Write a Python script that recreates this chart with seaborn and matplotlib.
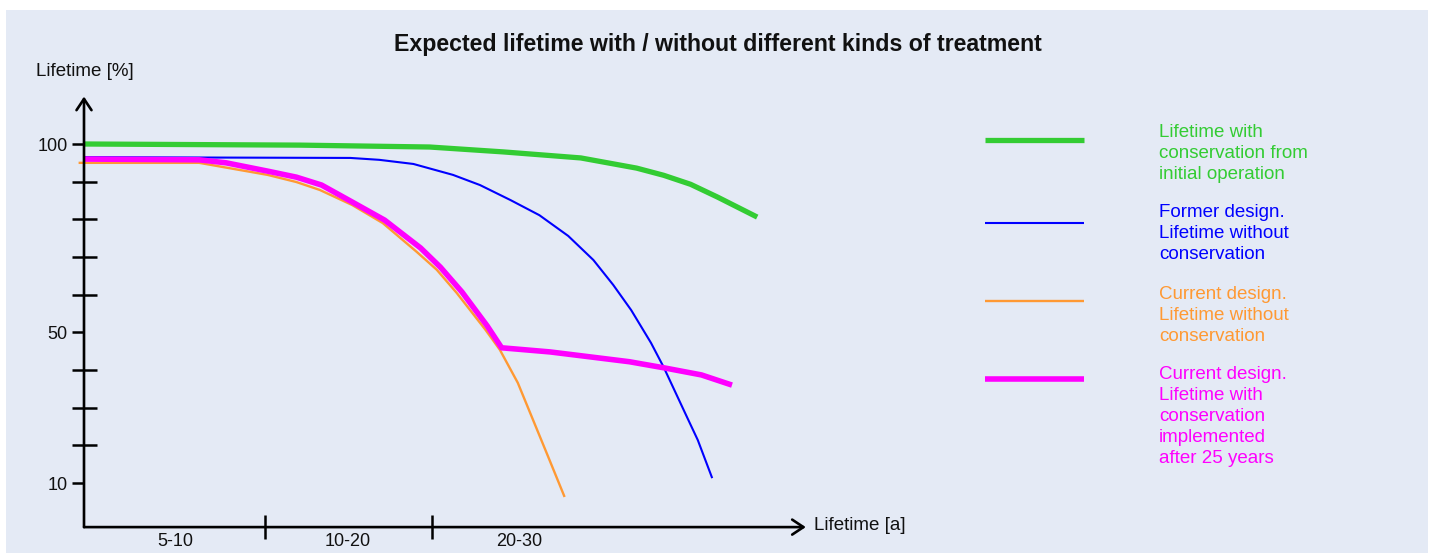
import matplotlib
matplotlib.use("Agg")
import matplotlib.pyplot as plt
import seaborn as sns
import pandas as pd
from matplotlib.patches import Rectangle
from matplotlib.lines import Line2D

# values (x in arbitrary years-like units, y in %)
green_x = [0, 12, 19.2, 23.3, 27.6, 30.7, 32.2, 33.7, 35.2, 37.4]
green_y = [100, 99.7, 99.2, 97.9, 96.3, 93.6, 91.7, 89.3, 85.9, 80.6]

blue_x = [0, 14.8, 16.4, 18.3, 20.5, 22, 23.7, 25.3, 26.9, 28.3, 29.4, 30.4, 31.5, 32.2, 33.5, 34.1, 34.9]
blue_y = [96.5, 96.3, 95.8, 94.7, 91.8, 89.1, 85.1, 81.1, 75.6, 69.2, 62.6, 55.9, 47.2, 40.8, 27.5, 21.4, 11.3]

orange_x = [-0.3, 6.4, 7.7, 10.2, 11.8, 13.1, 14.9, 16.6, 18.5, 19.6, 20.7, 22.3, 23.1, 24.1, 25.7, 26.7]
orange_y = [95.0, 95.0, 93.9, 91.8, 89.9, 87.8, 83.8, 79.0, 71.3, 66.6, 60.5, 50.7, 45.4, 36.6, 18.0, 6.3]

magenta_x = [0, 6.4, 7.9, 10.2, 11.8, 13.2, 14.9, 16.7, 18.7, 19.8, 21.0, 22.4, 23.2, 25.9, 30.3, 32.2, 34.3, 36.0]
magenta_y = [96.0, 95.8, 95.0, 92.8, 91.2, 89.1, 84.6, 79.8, 72.4, 67.3, 60.7, 51.7, 45.9, 44.8, 42.2, 40.6, 38.7, 36.0]

y_labels = ["10", "50", "100"]
y_labeled = [10, 50, 100]
y_minor = [20, 30, 40, 60, 70, 80, 90]
period_labels = ["5-10", "10-20", "20-30"]
period_centers = [5.06, 14.67, 24.2]
period_bounds = [10.06, 19.33]

legend_labels = [
    "Lifetime with\nconservation from\ninitial operation",
    "Former design.\nLifetime without\nconservation",
    "Current design.\nLifetime without\nconservation",
    "Current design.\nLifetime with\nconservation\nimplemented\nafter 25 years",
]
colors = ["#33cc33", "#0000ff", "#ff9933", "#ff00ff"]
widths = [3.8, 1.5, 1.7, 4.0]

sns.set_theme(style="white")
plt.rcParams["font.family"] = ["Liberation Sans", "DejaVu Sans"]

W, H = 1432, 555
fig = plt.figure(figsize=(W / 100, H / 100), dpi=100)
fig.patch.set_facecolor("white")
fig.add_artist(Rectangle((6 / W, 1 - 553 / H), 1422 / W, 543 / H,
                         transform=fig.transFigure, facecolor="#e4eaf5",
                         edgecolor="none", zorder=-10))

# axes placed so that px 84 -> x=0 and px 520.7 -> y=0
ax = fig.add_axes([60 / W, 1 - 545 / H, 770 / W, 455 / H])
ax.set_facecolor("none")
ax.set_xlim((60 - 84) / 18, (830 - 84) / 18)
ax.set_ylim((520.7 - 545) / 3.767, (520.7 - 90) / 3.767)

series = [(green_x, green_y), (blue_x, blue_y), (orange_x, orange_y), (magenta_x, magenta_y)]
for (xs, ys), c, lw in zip(series, colors, widths):
    df = pd.DataFrame({"x": xs, "y": ys})
    sns.lineplot(data=df, x="x", y="y", color=c, linewidth=lw, ax=ax,
                 sort=False, estimator=None, solid_capstyle="butt")

ax.set_xlabel("")
ax.set_ylabel("")
y0 = -1.7
for s in ["top", "right"]:
    ax.spines[s].set_visible(False)
ax.spines["left"].set_position(("data", 0))
ax.spines["bottom"].set_position(("data", y0))
ax.spines["left"].set_color("none")
ax.spines["bottom"].set_color("none")

# axis arrows
arrow = dict(arrowstyle="->,head_length=0.45,head_width=0.3", lw=1.9, color="black",
             mutation_scale=18, shrinkA=0, shrinkB=0)
ax.annotate("", xy=(0, 112.6), xytext=(0, y0), arrowprops=arrow)
ax.annotate("", xy=(40.1, y0), xytext=(0, y0), arrowprops=arrow)

ax.set_yticks(y_labeled)
ax.set_yticklabels(y_labels)
ax.set_yticks(y_minor, minor=True)
ax.tick_params(axis="y", which="major", direction="out", length=8.6, width=1.8,
               color="black", pad=3, labelsize=13, labelcolor="#111111", left=True)
ax.tick_params(axis="y", which="minor", direction="inout", length=18, width=1.8,
               color="black", left=True)

ax.set_xticks(period_bounds)
ax.set_xticklabels(["", ""])
ax.set_xticks(period_centers, minor=True)
ax.set_xticklabels(period_labels, minor=True)
ax.tick_params(axis="x", which="major", direction="inout", length=17, width=1.8,
               color="black", bottom=True)
ax.tick_params(axis="x", which="minor", length=0, pad=4.5, labelsize=13,
               labelcolor="#111111", bottom=True)

fig.text(718 / W, 1 - 44 / H, "Expected lifetime with / without different kinds of treatment",
         ha="center", va="center", fontsize=16.7, fontweight="bold", color="#111111")
fig.text(36 / W, 1 - 72 / H, "Lifetime [%]", ha="left", va="center", fontsize=13.5, color="#111111")
fig.text(814 / W, 1 - 525 / H, "Lifetime [a]", ha="left", va="center", fontsize=13.5, color="#111111")

# legend drawn by hand: line sample on the left, coloured text on the right
line_y = [140, 223, 301, 379]
text_top = [124, 204, 286, 366]
for lab, c, lw, ly, ty in zip(legend_labels, colors, widths, line_y, text_top):
    fig.add_artist(Line2D([985 / W, 1084 / W], [1 - ly / H, 1 - ly / H], color=c,
                          lw=lw, solid_capstyle="butt", transform=fig.transFigure))
    fig.text(1159 / W, 1 - ty / H, lab, ha="left", va="top", fontsize=13.5,
             color=c, linespacing=1.3)

fig.savefig("out.png", dpi=100)
